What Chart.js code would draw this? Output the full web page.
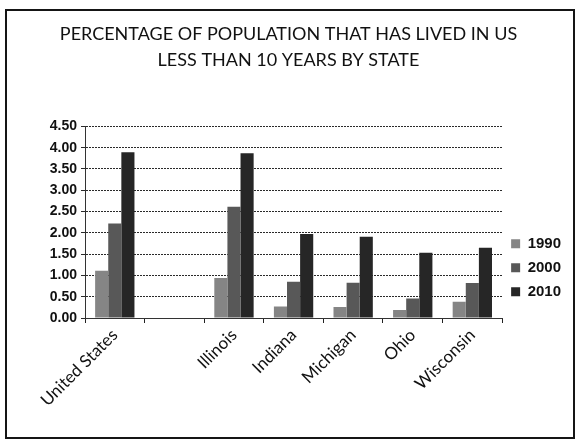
<!DOCTYPE html>
<html>
<head>
  <title>Percentage of population that has lived in US less than 10 years by state</title>
  <style>
    body { margin: 0; background: #ffffff; }
    .wrap { position: relative; width: 579px; height: 440px; }
    .frame {
      position: absolute;
      left: 5px; top: 9px;
      width: 566px; height: 426px;
      border: 2px solid #151515;
      pointer-events: none;
    }
  </style>
</head>
<body>
  <div class="wrap">
    <canvas id="chart" width="579" height="440"></canvas>
    <div class="frame"></div>
  </div>

  <script src="https://cdn.jsdelivr.net/npm/chart.js"></script>
  <script>
    // данные
    const categories = ['United States', '', 'Illinois', 'Indiana', 'Michigan', 'Ohio', 'Wisconsin'];
    const years = ['1990', '2000', '2010'];
    const values1990 = [1.11, null, 0.94, 0.27, 0.26, 0.19, 0.38];
    const values2000 = [2.22, null, 2.61, 0.85, 0.83, 0.46, 0.82];
    const values2010 = [3.89, null, 3.87, 1.97, 1.91, 1.53, 1.65];
    const yTicksMax = 4.5;
    const yStep = 0.5;

    const colors = ['#858585', '#585858', '#262626'];
    const allValues = [values1990, values2000, values2010];

    const ctx = document.getElementById('chart').getContext('2d');

    new Chart(ctx, {
      type: 'bar',
      data: {
        labels: categories,
        datasets: years.map((y, i) => ({
          label: y,
          data: allValues[i],
          backgroundColor: colors[i],
          borderWidth: 0,
          categoryPercentage: 0.66,
          barPercentage: 1.0
        }))
      },
      options: {
        responsive: false,
        animation: false,
        layout: { padding: { left: 6, right: 8, top: 0, bottom: 0 } },
        plugins: {
          title: {
            display: true,
            text: ['PERCENTAGE OF POPULATION THAT HAS LIVED IN US', 'LESS THAN 10 YEARS BY STATE'],
            color: '#111111',
            font: { family: 'Lato', size: 18, weight: 'normal', lineHeight: 1.4 },
            padding: { top: 22, bottom: 54 }
          },
          legend: {
            position: 'right',
            // пустой заголовок, чтобы опустить легенду ниже
            title: { display: true, text: '', padding: { top: 81, bottom: 0 } },
            labels: {
              color: '#111111',
              font: { family: 'Liberation Sans', size: 15, weight: 'bold' },
              boxWidth: 9,
              boxHeight: 9,
              padding: 9
            }
          },
          tooltip: { enabled: false }
        },
        scales: {
          x: {
            offset: true,
            grid: {
              offset: true,
              drawOnChartArea: false,
              drawTicks: true,
              tickLength: 5,
              color: '#222222'
            },
            border: { color: '#333333', width: 1, dash: [2, 1] },
            ticks: {
              color: '#111111',
              font: { family: 'Lato', size: 17 },
              minRotation: 45,
              maxRotation: 45,
              autoSkip: false,
              padding: 2
            },
            afterFit: (scale) => { scale.height = 122; }
          },
          y: {
            min: 0,
            max: yTicksMax,
            ticks: {
              stepSize: yStep,
              color: '#111111',
              font: { family: 'Liberation Sans', size: 14, weight: 'bold' },
              padding: 4,
              callback: (v) => v.toFixed(2)
            },
            grid: {
              color: '#2a2a2a',
              lineWidth: 1,
              tickLength: 4,
              drawTicks: true
            },
            border: { color: '#333333', width: 1, dash: [2, 1] },
            afterFit: (scale) => { scale.width = 79; }
          }
        }
      }
    });
  </script>
</body>
</html>
